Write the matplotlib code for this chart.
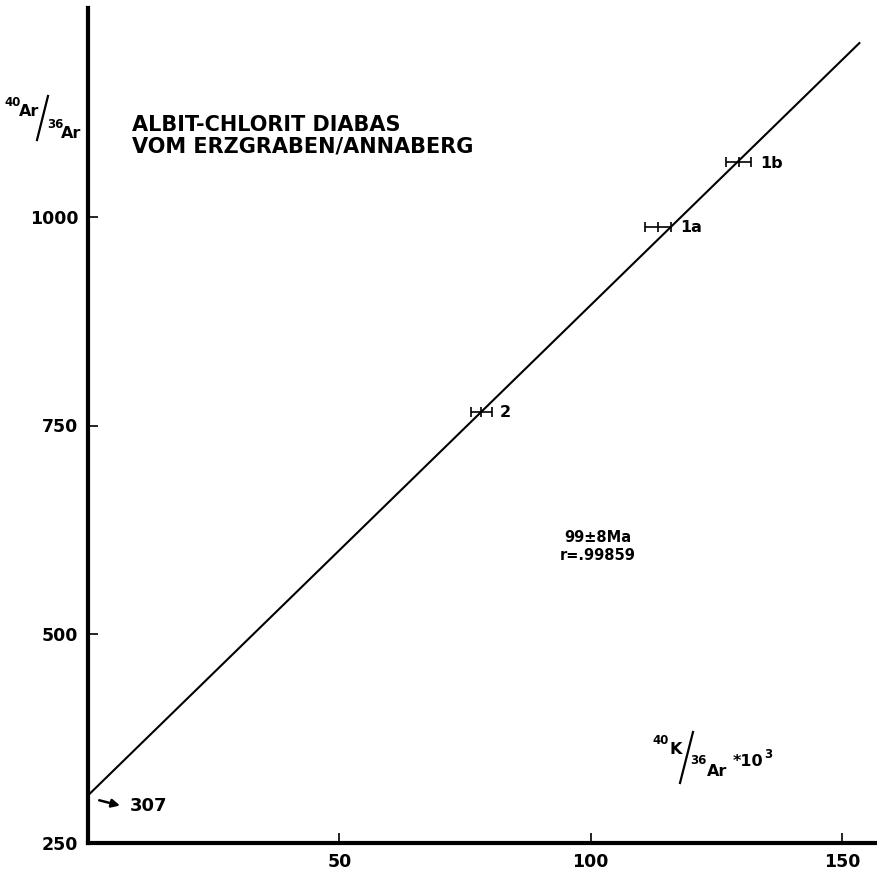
import matplotlib
matplotlib.use("Agg")
import matplotlib.pyplot as plt
from matplotlib.lines import Line2D
import numpy as np

plt.rcParams['font.family'] = ['DejaVu Sans']
plt.rcParams['font.weight'] = 'bold'

# data
sample_labels = ["2", "1a", "1b"]
k_ar = [78.3, 113.5, 129.5]          # 40K/36Ar * 10^3
ar_ar = [766, 988, 1065]             # 40Ar/36Ar
k_err = [2.0, 2.6, 2.5]

intercept = 307
slope = 5.87
line_x = [0, 153.5]

W, H = 877, 869
fig = plt.figure(figsize=(W / 100, H / 100), dpi=100)
ax = fig.add_axes([88 / W, 26 / H, 1 - 88 / W, (843 - 8) / H])


def ptext(px, py, s, **kw):
    # place text by pixel position (from top-left)
    fig.text(px / W, 1 - py / H, s, **kw)


def pslash(x0, y0, x1, y1):
    fig.add_artist(Line2D([x0 / W, x1 / W], [1 - y0 / H, 1 - y1 / H],
                          color='black', lw=1.6, transform=fig.transFigure))


x_line = np.array(line_x)
ax.plot(x_line, intercept + slope * x_line, color='black', lw=1.5, clip_on=False)

ax.errorbar(k_ar, ar_ar, xerr=k_err, fmt='none', ecolor='black',
            elinewidth=1.2, capsize=3.5, capthick=1.2)
ax.plot(k_ar, ar_ar, linestyle='none', marker='|', markersize=7,
        color='black', mew=1.2)

for lab, x, y, e in zip(sample_labels, k_ar, ar_ar, k_err):
    ax.annotate(lab, (x + e, y), xytext=(6, -0.5), textcoords='offset points',
                fontsize=11.5, fontweight='bold', va='center', ha='left')

ax.set_xlim(0, 157)
ax.set_ylim(250, 1250)
ax.set_xticks([50, 100, 150])
ax.set_yticks([250, 500, 750, 1000])
ax.tick_params(direction='in', length=7, width=1.2, labelsize=12.5, pad=7)
for lbl in ax.get_xticklabels() + ax.get_yticklabels():
    lbl.set_fontweight('bold')

for s in ['top', 'right']:
    ax.spines[s].set_visible(False)
for s in ['left', 'bottom']:
    ax.spines[s].set_linewidth(3)

# intercept arrow
ax.annotate('', xy=(6.9, 294), xytext=(1.7, 302),
            arrowprops=dict(arrowstyle='-|>', color='black', lw=1.8,
                            mutation_scale=12))
ptext(130, 806, '307', fontsize=13, va='center', ha='left')

# title
ptext(132, 125, 'ALBIT-CHLORIT DIABAS', fontsize=15, va='center', ha='left')
ptext(132, 146, 'VOM ERZGRABEN/ANNABERG', fontsize=15, va='center', ha='left')

ptext(598, 538, '99±8Ma', fontsize=10.5, va='center', ha='center')
ptext(598, 556, 'r=.99859', fontsize=10.5, va='center', ha='center')

# y axis label 40Ar/36Ar
ptext(13, 102, '40', fontsize=8.5, va='center', ha='center')
ptext(29, 112, 'Ar', fontsize=11.5, va='center', ha='center')
pslash(48, 96, 37, 140)
ptext(55, 125, '36', fontsize=8.5, va='center', ha='center')
ptext(71, 133, 'Ar', fontsize=11.5, va='center', ha='center')

# x axis label 40K/36Ar *10^3
ptext(661, 740, '40', fontsize=8.5, va='center', ha='center')
ptext(676, 749, 'K', fontsize=11.5, va='center', ha='center')
pslash(693, 732, 680, 783)
ptext(698, 760, '36', fontsize=8.5, va='center', ha='center')
ptext(717, 771, 'Ar', fontsize=11.5, va='center', ha='center')
ptext(733, 762, '*10', fontsize=11.5, va='center', ha='left')
ptext(768, 754, '3', fontsize=8.5, va='center', ha='center')

fig.savefig('out.png', dpi=100)
